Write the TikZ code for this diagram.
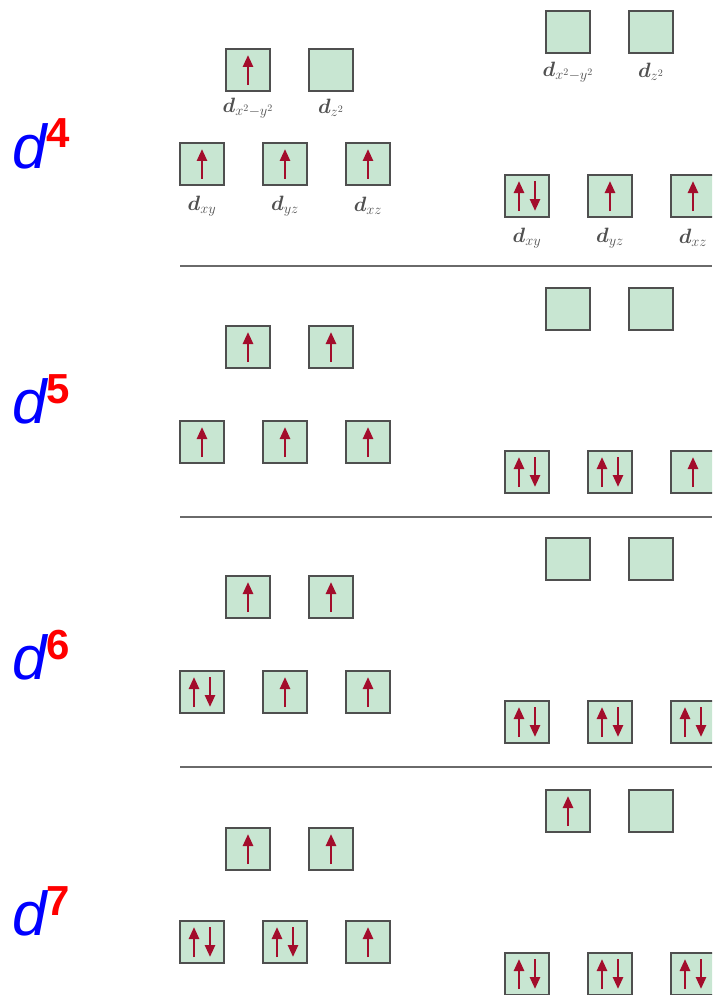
\documentclass[tikz,border=0pt]{standalone}
\usepackage{bm}
\usepackage{fontspec}
\setmainfont{Liberation Sans}
\usetikzlibrary{arrows.meta}
\definecolor{orbfill}{HTML}{C8E6D2}
\definecolor{orbedge}{HTML}{4F4F4F}
\definecolor{spincol}{HTML}{A30D2C}
\definecolor{rulecol}{HTML}{6A6A6A}
\definecolor{labcol}{HTML}{505050}
\tikzset{
  orbbox/.style={draw=orbedge, fill=orbfill, line width=1.8pt,
    minimum width=44pt, minimum height=42pt, inner sep=0pt},
  spin/.style={draw=spincol, line width=2.6pt,
    -{Triangle[width=10pt,length=12pt]}},
  orblabel/.style={text=labcol, inner sep=0pt, font=\fontsize{20}{22}\selectfont},
  dcount/.style={text=blue, inner sep=0pt, anchor=base west,
    font=\fontsize{62}{64}\selectfont\itshape},
  ecount/.style={text=red, inner sep=0pt, anchor=base west,
    font=\fontsize{42}{44}\selectfont\bfseries},
  divider/.style={draw=rulecol, line width=1.5pt}
}
% one orbital box: name, x, y, electrons (0, 1 or 2)
\newcommand\orbital[4]{%
  \node[orbbox] (#1) at (#2,#3) {};
  \ifcase#4\relax
  \or
    \draw[spin] ([yshift=-15pt]#1.center) -- ([yshift=15pt]#1.center);
  \or
    \draw[spin] ([xshift=-8pt,yshift=-15pt]#1.center) -- ([xshift=-8pt,yshift=15pt]#1.center);
    \draw[spin] ([xshift=8pt,yshift=15pt]#1.center) -- ([xshift=8pt,yshift=-15pt]#1.center);
  \fi}
\begin{document}
\begin{tikzpicture}[x=1pt,y=-1pt]
\useasboundingbox (0,0) rectangle (712,995);
\clip (0,0) rectangle (712,995);

% ---- d4 ----
\node[dcount] (n4) at (12,168) {d};
\node[ecount] (s4) at (46,148) {4};
\orbital{a1}{248}{70}{1}
\orbital{a2}{331}{70}{0}
\orbital{a3}{202}{164}{1}
\orbital{a4}{285}{164}{1}
\orbital{a5}{368}{164}{1}
\orbital{b1}{568}{32}{0}
\orbital{b2}{651}{32}{0}
\orbital{b3}{527}{196}{2}
\orbital{b4}{610}{196}{1}
\orbital{b5}{693}{196}{1}
\node[orblabel] (la1) at (248,108) {$\bm{d}_{x^2-y^2}$};
\node[orblabel] (la2) at (331,108) {$\bm{d}_{z^2}$};
\node[orblabel] (la3) at (202,206) {$\bm{d}_{xy}$};
\node[orblabel] (la4) at (285,206) {$\bm{d}_{yz}$};
\node[orblabel] (la5) at (368,206) {$\bm{d}_{xz}$};
\node[orblabel] (lb1) at (568,72) {$\bm{d}_{x^2-y^2}$};
\node[orblabel] (lb2) at (651,72) {$\bm{d}_{z^2}$};
\node[orblabel] (lb3) at (527,238) {$\bm{d}_{xy}$};
\node[orblabel] (lb4) at (610,238) {$\bm{d}_{yz}$};
\node[orblabel] (lb5) at (693,238) {$\bm{d}_{xz}$};

\coordinate (r1a) at (180,266); \coordinate (r1b) at (712,266);
\draw[divider] (r1a) -- (r1b);

% ---- d5 ----
\node[dcount] (n5) at (12,423) {d};
\node[ecount] (s5) at (46,403) {5};
\orbital{c1}{248}{347}{1}
\orbital{c2}{331}{347}{1}
\orbital{c3}{202}{442}{1}
\orbital{c4}{285}{442}{1}
\orbital{c5}{368}{442}{1}
\orbital{e1}{568}{309}{0}
\orbital{e2}{651}{309}{0}
\orbital{e3}{527}{472}{2}
\orbital{e4}{610}{472}{2}
\orbital{e5}{693}{472}{1}

\coordinate (r2a) at (180,517); \coordinate (r2b) at (712,517);
\draw[divider] (r2a) -- (r2b);

% ---- d6 ----
\node[dcount] (n6) at (12,679) {d};
\node[ecount] (s6) at (46,659) {6};
\orbital{f1}{248}{597}{1}
\orbital{f2}{331}{597}{1}
\orbital{f3}{202}{692}{2}
\orbital{f4}{285}{692}{1}
\orbital{f5}{368}{692}{1}
\orbital{g1}{568}{559}{0}
\orbital{g2}{651}{559}{0}
\orbital{g3}{527}{722}{2}
\orbital{g4}{610}{722}{2}
\orbital{g5}{693}{722}{2}

\coordinate (r3a) at (180,767); \coordinate (r3b) at (712,767);
\draw[divider] (r3a) -- (r3b);

% ---- d7 ----
\node[dcount] (n7) at (12,935) {d};
\node[ecount] (s7) at (46,915) {7};
\orbital{h1}{248}{849}{1}
\orbital{h2}{331}{849}{1}
\orbital{h3}{202}{942}{2}
\orbital{h4}{285}{942}{2}
\orbital{h5}{368}{942}{1}
\orbital{k1}{568}{811}{1}
\orbital{k2}{651}{811}{0}
\orbital{k3}{527}{974}{2}
\orbital{k4}{610}{974}{2}
\orbital{k5}{693}{974}{2}
\end{tikzpicture}
\end{document}
